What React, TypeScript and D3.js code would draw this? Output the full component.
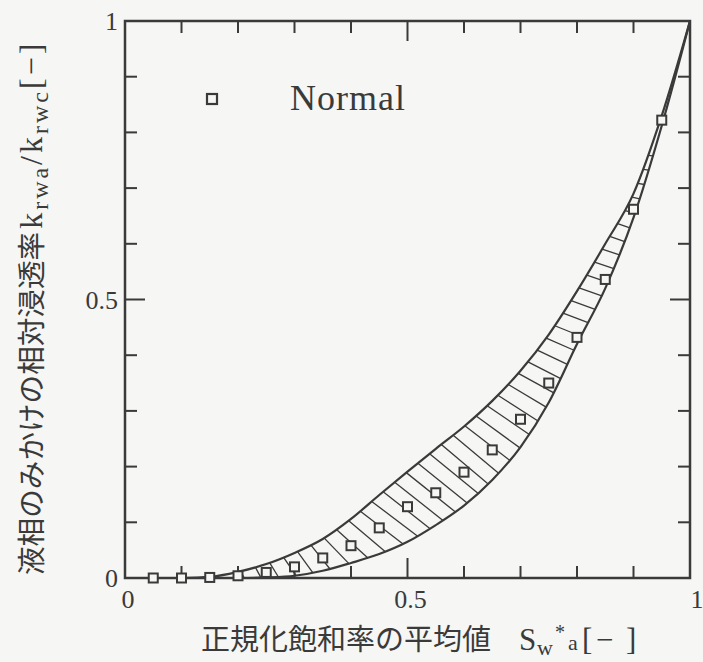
import React, { useEffect, useRef } from 'react'
import * as d3 from 'd3'

// Normal: 正規化飽和率の平均値 vs 相対浸透率
const satX = [0.05, 0.1, 0.15, 0.2, 0.25, 0.3, 0.35, 0.4, 0.45, 0.5, 0.55, 0.6, 0.65, 0.7, 0.75, 0.8, 0.85, 0.9, 0.95]
const krNormal = [0, 0, 0.001, 0.004, 0.01, 0.02, 0.036, 0.058, 0.09, 0.128, 0.153, 0.19, 0.23, 0.285, 0.35, 0.432, 0.536, 0.662, 0.822]

// upper / lower bounds of the hatched band
const upperX = [0.1, 0.15, 0.2, 0.25, 0.3, 0.35, 0.4, 0.45, 0.5, 0.55, 0.6, 0.65, 0.7, 0.75, 0.8, 0.85, 0.9, 0.95, 1.0]
const upperY = [0, 0.002, 0.011, 0.025, 0.045, 0.07, 0.106, 0.149, 0.191, 0.232, 0.272, 0.318, 0.372, 0.437, 0.515, 0.6, 0.69, 0.83, 1.0]
const lowerX = [0.2, 0.25, 0.3, 0.35, 0.4, 0.45, 0.5, 0.55, 0.6, 0.65, 0.7, 0.75, 0.8, 0.85, 0.9, 0.95, 1.0]
const lowerY = [0, 0.001, 0.004, 0.013, 0.027, 0.043, 0.065, 0.095, 0.13, 0.176, 0.235, 0.315, 0.42, 0.52, 0.647, 0.812, 1.0]

const tickVals = [0.1, 0.2, 0.3, 0.4, 0.5, 0.6, 0.7, 0.8, 0.9]
const tickLabels = [0, 0.5, 1]
const legendName = 'Normal'

const W = 703
const H = 662
const ink = '#3a3a3a'
const paper = '#f6f6f4'
const serif = '"Liberation Serif", "DejaVu Serif", serif'
const cjk = '"Noto Sans CJK JP", sans-serif'

const App = () => {
    const upRef = useRef<SVGPathElement>(null)
    const loRef = useRef<SVGPathElement>(null)
    const hatchRef = useRef<SVGGElement>(null)

    const x = d3.scaleLinear().domain([0, 1]).range([125, 690])
    const y = d3.scaleLinear().domain([0, 1]).range([578, 21])

    const upperPath = d3.line<number>()
        .x(d => x(d))
        .y((d, i) => y(upperY[i]))
        .curve(d3.curveMonotoneX)(upperX)
    const lowerPath = d3.line<number>()
        .x(d => x(d))
        .y((d, i) => y(lowerY[i]))
        .curve(d3.curveMonotoneX)(lowerX)

    // hatching: short strokes from the upper curve down to the lower one
    useEffect(() => {
        const up = upRef.current!
        const lo = loRef.current!
        const L = up.getTotalLength()
        const loLen = lo.getTotalLength()
        const loPts = d3.range(0, loLen, 1.5).map(s => lo.getPointAtLength(s))
        loPts.push(lo.getPointAtLength(loLen))

        const segs: number[][] = []
        for (let s = 60; s < L - 4; s += 15) {
            const p = up.getPointAtLength(s)
            const q = up.getPointAtLength(Math.min(L, s + 2))
            let tx = q.x - p.x, ty = q.y - p.y
            const n = Math.hypot(tx, ty)
            tx /= n; ty /= n
            const ang = Math.atan2(tx, -ty) - (12 * Math.PI) / 180
            const dx = Math.cos(ang), dy = Math.sin(ang)
            let best = Infinity
            for (let k = 0; k < loPts.length - 1; k++) {
                const a = loPts[k], b = loPts[k + 1]
                const ex = b.x - a.x, ey = b.y - a.y
                const den = dx * ey - dy * ex
                if (Math.abs(den) < 1e-9) continue
                const t = ((a.x - p.x) * ey - (a.y - p.y) * ex) / den
                const u = ((a.x - p.x) * dy - (a.y - p.y) * dx) / den
                if (t > 0 && u >= 0 && u <= 1 && t < best) best = t
            }
            if (best < 4 || best > 90) continue
            segs.push([p.x, p.y, p.x + dx * best, p.y + dy * best])
        }

        d3.select(hatchRef.current)
            .selectAll('line')
            .data(segs)
            .join('line')
            .attr('x1', d => d[0])
            .attr('y1', d => d[1])
            .attr('x2', d => d[2])
            .attr('y2', d => d[3])
            .attr('stroke', ink)
            .attr('stroke-width', 1.3)
    }, [])

    const tickLen = (t: number) => (Math.abs(t - 0.5) < 1e-6 ? 20 : 12)

    return (
        <svg width={W} height={H} style={{ position: 'absolute', left: 0, top: 0 }}>
            <rect x={0} y={0} width={W} height={H} fill={paper} />

            {/* ticks, all pointing inward */}
            <g stroke={ink} strokeWidth={2}>
                {tickVals.map(t => (
                    <g key={t}>
                        <line x1={x(t)} x2={x(t)} y1={y(0)} y2={y(0) - tickLen(t)} />
                        <line x1={x(t)} x2={x(t)} y1={y(1)} y2={y(1) + tickLen(t)} />
                        <line x1={x(0)} x2={x(0) + tickLen(t)} y1={y(t)} y2={y(t)} />
                        <line x1={x(1)} x2={x(1) - tickLen(t)} y1={y(t)} y2={y(t)} />
                    </g>
                ))}
            </g>

            <g ref={hatchRef} />
            <path ref={upRef} d={upperPath ?? ''} fill="none" stroke={ink} strokeWidth={2.2} />
            <path ref={loRef} d={lowerPath ?? ''} fill="none" stroke={ink} strokeWidth={2.2} />

            <rect x={x(0)} y={y(1)} width={x(1) - x(0)} height={y(0) - y(1)}
                fill="none" stroke={ink} strokeWidth={2.5} />

            {satX.map((d, i) => (
                <rect key={d} x={x(d) - 4.5} y={y(krNormal[i]) - 4.5} width={9} height={9}
                    fill={paper} stroke={ink} strokeWidth={2} />
            ))}

            {/* tick labels */}
            <g fontFamily={serif} fontSize={26} fill={ink}>
                {tickLabels.map(t => (
                    <text key={'y' + t} x={x(0) - 7} y={y(t)} dy="0.35em" textAnchor="end">{t}</text>
                ))}
                {tickLabels.map(t => (
                    <text key={'x' + t} x={x(t) + (t === 1 ? 7 : 3)} y={y(0) + 30} textAnchor="middle">{t}</text>
                ))}
            </g>

            {/* legend */}
            <rect x={207} y={94} width={10} height={10} fill={paper} stroke={ink} strokeWidth={2.2} />
            <text x={290} y={110} fontFamily={serif} fontSize={36} letterSpacing={1} fill={ink}>{legendName}</text>

            {/* y label */}
            <text transform="translate(42, 575) rotate(-90)" fontSize={28.6} fill={ink} fontFamily={cjk}>
                液相のみかけの相対浸透率
                <tspan fontFamily={serif} fontSize={32} dx={3} letterSpacing={3}>k</tspan>
                <tspan fontFamily={serif} fontSize={24} dy={6} letterSpacing={3}>rwa</tspan>
                <tspan fontFamily={serif} fontSize={32} dy={-6} letterSpacing={3}>/k</tspan>
                <tspan fontFamily={serif} fontSize={24} dy={6} letterSpacing={3}>rwc</tspan>
                <tspan fontFamily={serif} fontSize={32} dy={-6} letterSpacing={3}>[−]</tspan>
            </text>

            {/* x label */}
            <text x={201} y={650} fontSize={29} fill={ink} fontFamily={cjk}>
                正規化飽和率の平均値
                <tspan fontFamily={serif} fontSize={31} x={519}>S</tspan>
                <tspan fontFamily={serif} fontSize={22} dy={5} x={537}>w</tspan>
                <tspan fontFamily={serif} fontSize={20} dy={-16} x={555}>*</tspan>
                <tspan fontFamily={serif} fontSize={22} dy={11} x={568}>a</tspan>
                <tspan fontFamily={serif} fontSize={31} dy={0} x={582}>[</tspan>
                <tspan fontFamily={serif} fontSize={31} x={596}>−</tspan>
                <tspan fontFamily={serif} fontSize={31} x={626}>]</tspan>
            </text>
        </svg>
    )
}

export default App
